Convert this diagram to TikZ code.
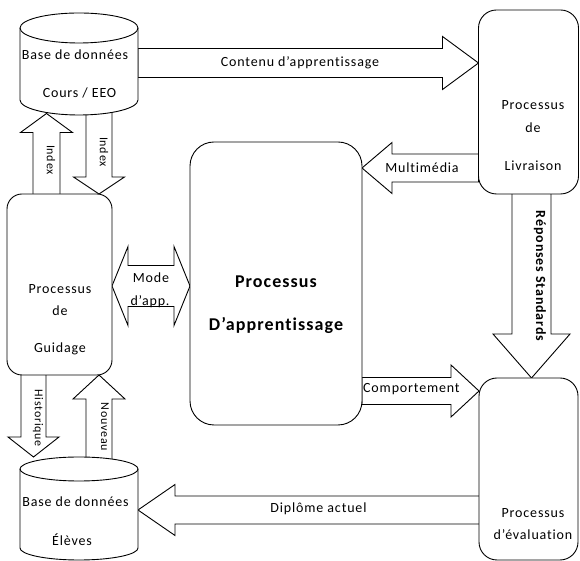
\documentclass[tikz,border=0pt]{standalone}
\usepackage{fontspec}
\setmainfont{Carlito}[LetterSpace=6, Ligatures={NoCommon}]
\usetikzlibrary{calc}
\pgfdeclarelayer{background}
\pgfsetlayers{background,main}

\tikzset{
  outline/.style={draw=black, line width=0.9pt, fill=white, line join=miter},
  procbox/.style={outline, rounded corners=#1, inner sep=0pt, outer sep=0pt},
  zone/.style={inner sep=0pt, outer sep=0pt},
  lbl/.style={font=\fontsize{14}{16}\selectfont, inner sep=0pt},
  vlbl/.style={font=\fontsize{12}{14}\selectfont, inner sep=0pt, rotate=-90},
  biglbl/.style={font=\fontsize{18}{20}\selectfont\bfseries, inner sep=0pt},
  vbold/.style={font=\fontsize{14}{16}\selectfont\bfseries, inner sep=0pt, rotate=-90}
}

% database drum drawn round an invisible rectangle node: #1 node, #2 end radius (vertical), #3 half width
\newcommand{\drumoutline}[3]{%
  \draw[outline] ([yshift=-#2]#1.north west) -- ([yshift=#2]#1.south west)
    arc[start angle=180, end angle=360, x radius=#3, y radius=#2]
    -- ([yshift=-#2]#1.north east)
    arc[start angle=0, end angle=180, x radius=#3, y radius=#2] -- cycle;
  \draw[line width=0.9pt] ([yshift=-#2]#1.north west)
    arc[start angle=180, end angle=360, x radius=#3, y radius=#2];
}

% block arrow: #1 tail, #2 tip, #3 shaft half width, #4 head half width, #5 head length
\newcommand{\blockarrow}[5]{%
  \coordinate (ba-neck) at ($(#2)!#5!(#1)$);
  \draw[outline] ($(#1)!#3!90:(#2)$) -- ($(ba-neck)!#3!90:(#2)$)
    -- ($(ba-neck)!#4!90:(#2)$) -- (#2) -- ($(ba-neck)!#4!-90:(#2)$)
    -- ($(ba-neck)!#3!-90:(#2)$) -- ($(#1)!#3!-90:(#2)$) -- cycle;
}

% two-headed block arrow between #1 and #2
\newcommand{\twoheadarrow}[5]{%
  \coordinate (da-necka) at ($(#1)!#5!(#2)$);
  \coordinate (da-neckb) at ($(#2)!#5!(#1)$);
  \draw[outline] (#1) -- ($(da-necka)!#4!90:(#2)$) -- ($(da-necka)!#3!90:(#2)$)
    -- ($(da-neckb)!#3!90:(#2)$) -- ($(da-neckb)!#4!90:(#2)$) -- (#2)
    -- ($(da-neckb)!#4!-90:(#2)$) -- ($(da-neckb)!#3!-90:(#2)$)
    -- ($(da-necka)!#3!-90:(#2)$) -- ($(da-necka)!#4!-90:(#2)$) -- cycle;
}

\begin{document}
\begin{tikzpicture}[x=1pt, y=1pt]
\useasboundingbox (0,0) rectangle (580,561);

% ---- processes ----
\node[procbox=15pt, minimum width=105pt, minimum height=181pt] (guid) at (59.5,276.5) {};
\node[procbox=24pt, minimum width=172pt, minimum height=283pt] (appr) at (276,277.5) {};
\node[procbox=18pt, minimum width=100pt, minimum height=184pt] (livr) at (528.5,459) {};
\node[procbox=18pt, minimum width=99pt, minimum height=182pt] (eval) at (528.5,92) {};

% ---- databases ----
\node[zone, minimum width=118pt, minimum height=102pt] (cours) at (79,497) {};
\drumoutline{cours}{15pt}{59pt}
\node[zone, minimum width=118pt, minimum height=103pt] (eleves) at (79,52.5) {};
\drumoutline{eleves}{12pt}{59pt}

% ---- texts ----
\node[lbl] (t-cours1) at (75,506) {Base de données};
\node[lbl] (t-cours2) at (79.5,468) {Cours / EEO};
\node[lbl] (t-el1) at (75.5,59) {Base de données};
\node[lbl] (t-el2) at (72,21) {Élèves};

\node[lbl] (t-guid1) at (60,272) {Processus};
\node[lbl] (t-guid2) at (60,250) {de};
\node[lbl] (t-guid3) at (60,212) {Guidage};

\node[biglbl] (t-appr1) at (276,279) {Processus};
\node[biglbl] (t-appr2) at (276,236) {D’apprentissage};

\node[lbl] (t-livr1) at (533,456) {Processus};
\node[lbl] (t-livr2) at (533,433) {de};
\node[lbl] (t-livr3) at (533,395) {Livraison};

\node[lbl] (t-eval1) at (533,48) {Processus};
\node[lbl] (t-eval2) at (533,26) {d’évaluation};

% ---- connectors ----
\coordinate (contenu-a) at (cours.east |- 0,498);
\coordinate (contenu-b) at (livr.west |- 0,498);
\coordinate (multi-a) at (livr.west |- 0,393);
\coordinate (multi-b) at (appr.east |- 0,393);
\coordinate (rep-a) at (livr.center -| 531.5,0);
\coordinate (rep-b) at (eval.north -| 531.5,0);
\coordinate (comp-a) at (appr.east |- 0,170);
\coordinate (comp-b) at (eval.west |- 0,170);
\coordinate (dipl-a) at (eval.center |- 0,51);
\coordinate (dipl-b) at (eleves.east |- 0,51);
\coordinate (idxup-a) at (guid.center -| 46.5,0);
\coordinate (idxup-b) at ($(cours.south -| 46.5,0)+(0,1.5)$);
\coordinate (idxdn-a) at (cours.center -| 99,0);
\coordinate (idxdn-b) at (guid.north -| 99,0);
\coordinate (hist-a) at (guid.center -| 33.5,0);
\coordinate (hist-b) at ($(eleves.north -| 33.5,0)$);
\coordinate (nouv-a) at (eleves.center -| 99,0);
\coordinate (nouv-b) at (guid.south -| 99,0);
\coordinate (mode-a) at (guid.east |- 0,275);
\coordinate (mode-b) at (appr.west |- 0,275);

\begin{pgfonlayer}{background}
  \blockarrow{contenu-a}{contenu-b}{14.5pt}{26.5pt}{36pt}
  \blockarrow{multi-a}{multi-b}{14pt}{25.5pt}{30pt}
  \blockarrow{rep-a}{rep-b}{19.5pt}{38.5pt}{44pt}
  \blockarrow{comp-a}{comp-b}{13.5pt}{26pt}{28pt}
  \blockarrow{dipl-a}{dipl-b}{14pt}{25.5pt}{37pt}
  \blockarrow{idxup-a}{idxup-b}{13.5pt}{26pt}{19pt}
  \blockarrow{idxdn-a}{idxdn-b}{13pt}{25.5pt}{17pt}
  \blockarrow{hist-a}{hist-b}{12.5pt}{25.5pt}{20pt}
  \blockarrow{nouv-a}{nouv-b}{13pt}{26pt}{24pt}
  \twoheadarrow{mode-a}{mode-b}{20.5pt}{39.5pt}{16pt}
\end{pgfonlayer}

% ---- connector labels ----
\node[lbl] (l-contenu) at (300,498) {Contenu d’apprentissage};
\node[lbl] (l-multi) at (422,393) {Multimédia};
\node[vbold] (l-rep) at (540,285) {Réponses Standards};
\node[lbl, anchor=west] (l-comp) at (363,172) {Comportement};
\node[lbl] (l-dipl) at (318.5,52) {Diplôme actuel};
\node[vlbl] (l-idxup) at (51,401) {Index};
\node[vlbl] (l-idxdn) at (104,409) {Index};
\node[vlbl] (l-hist) at (38,143) {Historique};
\node[vlbl] (l-nouv) at (105,134) {Nouveau};
\node[lbl] (l-mode1) at (151,283) {Mode};
\node[lbl] (l-mode2) at (150,259) {d’app.};
\end{tikzpicture}
\end{document}
